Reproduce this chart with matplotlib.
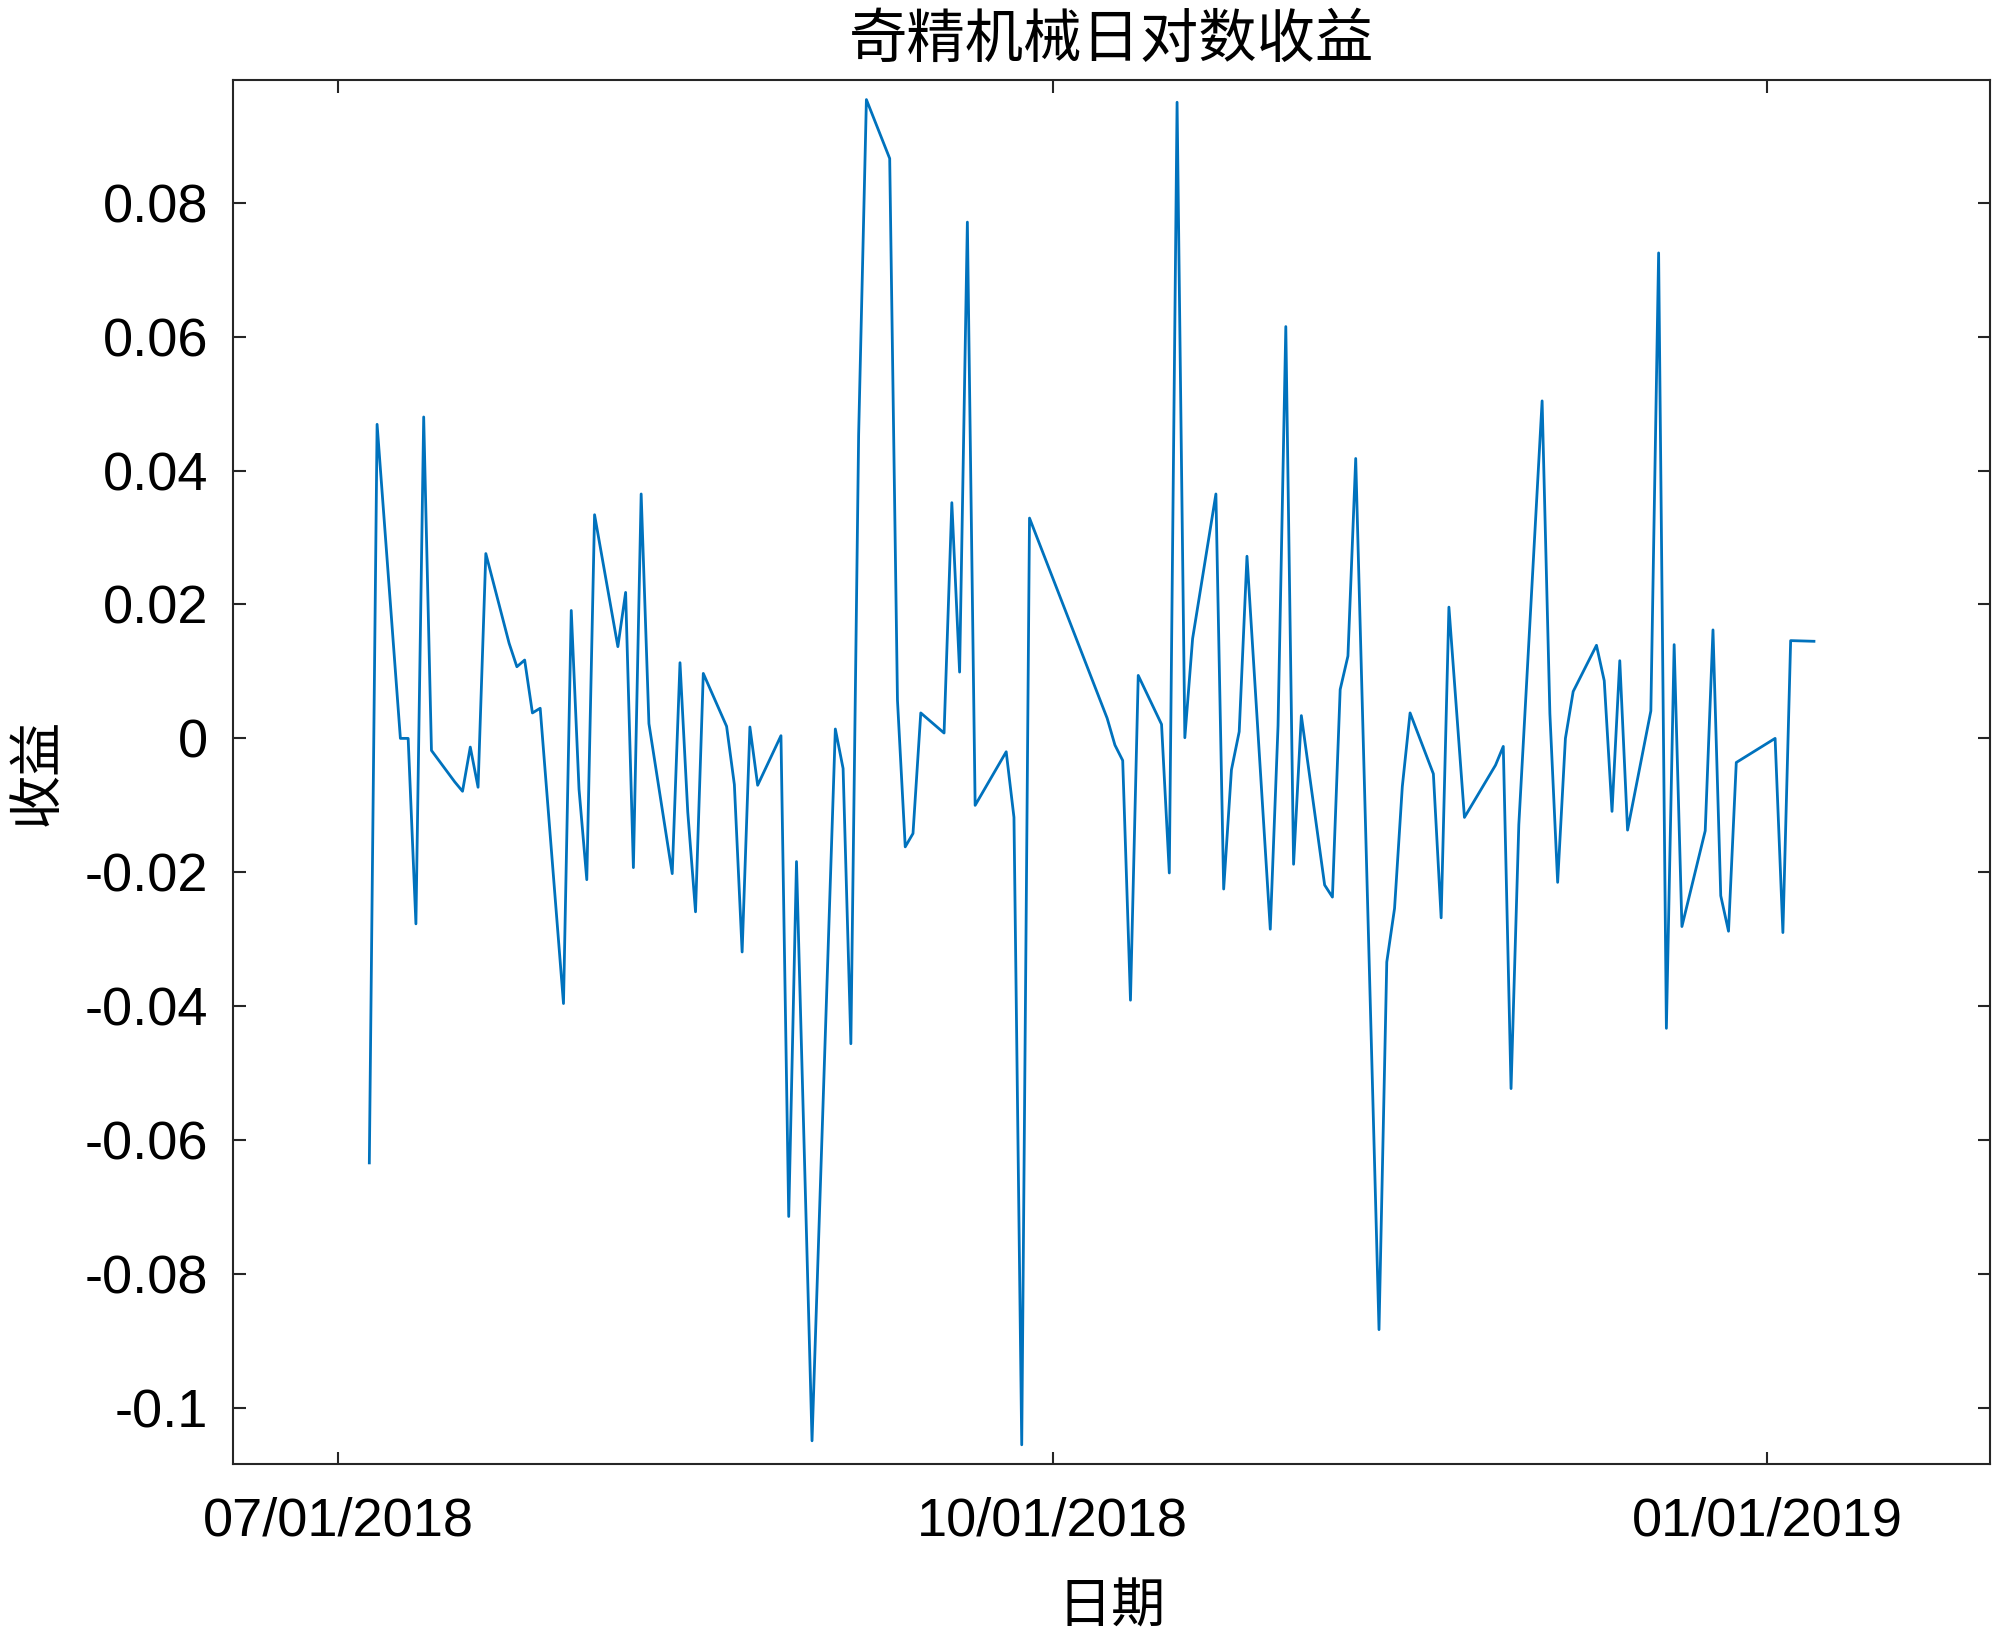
import numpy as np
import matplotlib
matplotlib.use("Agg")
import matplotlib.pyplot as plt
import matplotlib.dates as mdates
from matplotlib.ticker import FuncFormatter

plt.rcParams['axes.unicode_minus'] = False

# trading days (log returns)
dates = [
    "2018-07-05", "2018-07-06", "2018-07-09", "2018-07-10", "2018-07-11", "2018-07-12", "2018-07-13",
    "2018-07-16", "2018-07-17", "2018-07-18", "2018-07-19", "2018-07-20",
    "2018-07-23", "2018-07-24", "2018-07-25", "2018-07-26", "2018-07-27",
    "2018-07-30", "2018-07-31", "2018-08-01", "2018-08-02", "2018-08-03",
    "2018-08-06", "2018-08-07", "2018-08-08", "2018-08-09", "2018-08-10",
    "2018-08-13", "2018-08-14", "2018-08-15", "2018-08-16", "2018-08-17",
    "2018-08-20", "2018-08-21", "2018-08-22", "2018-08-23", "2018-08-24",
    "2018-08-27", "2018-08-28", "2018-08-29", "2018-08-31",
    "2018-09-03", "2018-09-04", "2018-09-05", "2018-09-06", "2018-09-07",
    "2018-09-10", "2018-09-11", "2018-09-12", "2018-09-13", "2018-09-14",
    "2018-09-17", "2018-09-18", "2018-09-19", "2018-09-20", "2018-09-21",
    "2018-09-25", "2018-09-26", "2018-09-27", "2018-09-28",
    "2018-10-08", "2018-10-09", "2018-10-10", "2018-10-11", "2018-10-12",
    "2018-10-15", "2018-10-16", "2018-10-17", "2018-10-18", "2018-10-19",
    "2018-10-22", "2018-10-23", "2018-10-24", "2018-10-25", "2018-10-26",
    "2018-10-29", "2018-10-30", "2018-10-31", "2018-11-01", "2018-11-02",
    "2018-11-05", "2018-11-06", "2018-11-07", "2018-11-08", "2018-11-09",
    "2018-11-12", "2018-11-13", "2018-11-14", "2018-11-15", "2018-11-16",
    "2018-11-19", "2018-11-20", "2018-11-21", "2018-11-23",
    "2018-11-27", "2018-11-28", "2018-11-29", "2018-11-30",
    "2018-12-03", "2018-12-04", "2018-12-05", "2018-12-06", "2018-12-07",
    "2018-12-10", "2018-12-11", "2018-12-12", "2018-12-13", "2018-12-14",
    "2018-12-17", "2018-12-18", "2018-12-19", "2018-12-20", "2018-12-21",
    "2018-12-24", "2018-12-25", "2018-12-26", "2018-12-27", "2018-12-28",
    "2019-01-02", "2019-01-03", "2019-01-04", "2019-01-07",
]
returns = [
    -0.0634, 0.0469, 0.0000, 0.0000, -0.0277, 0.0480, -0.0018,
    -0.0065, -0.0079, -0.0013, -0.0073, 0.0276,
    0.0142, 0.0107, 0.0117, 0.0038, 0.0045,
    -0.0396, 0.0191, -0.0076, -0.0211, 0.0334,
    0.0137, 0.0218, -0.0193, 0.0365, 0.0022,
    -0.0202, 0.0113, -0.0110, -0.0259, 0.0097,
    0.0018, -0.0069, -0.0319, 0.0017, -0.0070,
    0.0004, -0.0714, -0.0184, -0.1049,
    0.0014, -0.0045, -0.0456, 0.0453, 0.0954,
    0.0866, 0.0057, -0.0162, -0.0142, 0.0038,
    0.0008, 0.0352, 0.0099, 0.0771, -0.0100,
    -0.0020, -0.0118, -0.1055, 0.0329,
    0.0030, -0.0010, -0.0033, -0.0391, 0.0094,
    0.0021, -0.0201, 0.0950, 0.0001, 0.0149,
    0.0365, -0.0225, -0.0047, 0.0010, 0.0272,
    -0.0285, 0.0019, 0.0615, -0.0188, 0.0034,
    -0.0219, -0.0237, 0.0073, 0.0123, 0.0418,
    -0.0883, -0.0334, -0.0254, -0.0072, 0.0038,
    -0.0053, -0.0268, 0.0196, -0.0118,
    -0.0040, -0.0012, -0.0523, -0.0129,
    0.0504, 0.0037, -0.0215, 0.0000, 0.0070,
    0.0139, 0.0086, -0.0109, 0.0116, -0.0137,
    0.0041, 0.0725, -0.0433, 0.0140, -0.0281,
    -0.0138, 0.0162, -0.0235, -0.0288, -0.0036,
    0.0000, -0.0290, 0.0146, 0.0145,
]

x_ticks = ["2018-07-01", "2018-10-01", "2019-01-01"]
y_ticks = [-0.1, -0.08, -0.06, -0.04, -0.02, 0, 0.02, 0.04, 0.06, 0.08]

d = np.array(dates, dtype="datetime64[D]")
r = np.array(returns)

fig = plt.figure(figsize=(20, 16.36), dpi=100)
ax = fig.add_axes([0.1167, 0.105, 0.8783, 0.846])

ax.plot(d, r, color="#0072BD", linewidth=2.0)

ax.set_xlim(np.datetime64("2018-06-17T12:00"), np.datetime64("2019-01-29T16:00"))
ax.set_ylim(-0.1084, 0.0983)
ax.set_xticks(np.array(x_ticks, dtype="datetime64[D]"))
ax.xaxis.set_major_formatter(mdates.DateFormatter("%m/%d/%Y"))
ax.set_yticks(y_ticks)
ax.yaxis.set_major_formatter(FuncFormatter(lambda v, p: "%g" % round(v, 4)))

for s in ax.spines.values():
    s.set_color("#262626")
    s.set_linewidth(1.5)
ax.tick_params(direction="in", length=9, width=1.5, color="#262626",
               top=True, right=True, labelsize=39, labelcolor="black")
ax.tick_params(axis="x", pad=23)
ax.tick_params(axis="y", pad=18)
for lab in ax.get_xticklabels() + ax.get_yticklabels():
    lab.set_family(["Liberation Sans", "DejaVu Sans"])

cjk = ["Noto Sans CJK SC", "DejaVu Sans"]
ax.set_title("奇精机械日对数收益", family=cjk, fontsize=42, pad=17)
ax.set_xlabel("日期", family=cjk, fontsize=39)
ax.set_ylabel("收益", family=cjk, fontsize=39)
ax.xaxis.set_label_coords(0.5, -0.083)
ax.yaxis.set_label_coords(-0.096, 0.5)

fig.savefig("out.png", dpi=100, facecolor="white")
